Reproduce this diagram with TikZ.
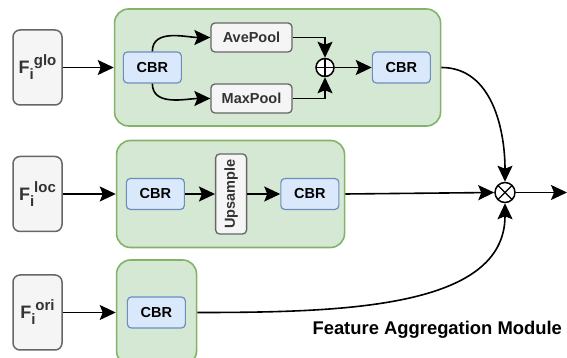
\documentclass[tikz,border=0pt]{standalone}
\usepackage{fontspec}
\setmainfont{Liberation Sans}
\usepackage{xcolor}
\usetikzlibrary{arrows.meta}
\usetikzlibrary{positioning}

\definecolor{greenfill}{HTML}{D5E8D4}
\definecolor{greenline}{HTML}{82B366}
\definecolor{bluefill}{HTML}{DAE8FC}
\definecolor{blueline}{HTML}{6C8EBF}
\definecolor{grayfill}{HTML}{F5F5F5}
\definecolor{grayline}{HTML}{666666}
\definecolor{darktext}{HTML}{333333}

\newcommand{\featin}[1]{{\fontsize{18}{20}\selectfont F}{\fontsize{15}{15}\selectfont\raisebox{-6pt}{i}\raisebox{8pt}{#1}}}

\tikzset{
    inbox/.style={draw=grayline, fill=grayfill, rounded corners=7pt, line width=1.5pt, minimum width=49pt, minimum height=75pt, inner sep=0pt, text=darktext, font=\bfseries},
    poolbox/.style={draw=grayline, fill=grayfill, rounded corners=4pt, line width=1.3pt, minimum width=81pt, minimum height=29pt, inner sep=0pt, text=darktext, font=\fontsize{14.5}{16}\selectfont\bfseries},
    cbrbox/.style={draw=blueline, fill=bluefill, rounded corners=4pt, line width=1.2pt, minimum width=58pt, minimum height=31pt, inner sep=0pt, font=\fontsize{14.5}{16}\selectfont\bfseries},
    group/.style={draw=greenline, fill=greenfill, rounded corners=14pt, line width=1.6pt, inner sep=0pt},
    opplus/.style={circle, draw, fill=white, line width=1.5pt, minimum size=18pt, inner sep=0pt,
        path picture={\draw[line width=1.3pt] (path picture bounding box.north) -- (path picture bounding box.south)
            (path picture bounding box.west) -- (path picture bounding box.east);}},
    optimes/.style={circle, draw, fill=white, line width=1.5pt, minimum size=20pt, inner sep=0pt,
        path picture={\draw[line width=1.3pt] (path picture bounding box.north west) -- (path picture bounding box.south east)
            (path picture bounding box.south west) -- (path picture bounding box.north east);}},
    conn/.style={line width=1.6pt, -{Stealth[length=16pt,width=15pt,inset=3pt]}}
}

\begin{document}
\begin{tikzpicture}[x=1pt, y=1pt]
    \useasboundingbox (0,0) rectangle (567,358);

    % inputs
    \node[inbox] (fglo) at (37.5,290.5) {\featin{glo}};
    \node[inbox, below=50pt of fglo] (floc) {\featin{loc}};
    \node[inbox, below=42pt of floc] (fori) {\featin{ori}};

    % module groups
    \node[group, minimum width=326pt, minimum height=117pt, right=51pt of fglo] (gglo) {};
    \node[group, minimum width=228pt, minimum height=107pt, right=53pt of floc] (gloc) {};
    \node[group, minimum width=80pt, minimum height=105pt, right=53pt of fori] (gori) {}; % runs past the bottom edge

    % global branch
    \node[cbrbox, right=9pt of gglo.west] (cbrglo) {CBR};
    \node[poolbox] (ave) at (251.5,320.5) {AvePool};
    \node[poolbox] (maxp) at (251.5,259.5) {MaxPool};
    \node[opplus] (plus) at (325,290.5) {};
    \node[cbrbox, right=37pt of plus] (cbrglo2) {CBR};

    % local branch
    \node[cbrbox, right=10pt of gloc.west] (cbrloc) {CBR};
    \node[draw=grayline, fill=grayfill, rounded corners=4pt, line width=1.3pt, minimum width=80pt, minimum height=31pt, inner sep=0pt,
        text=darktext, font=\fontsize{14.5}{16}\selectfont\bfseries, rotate=90, right=30pt of cbrloc, anchor=north] (ups) {Upsample};
    \node[cbrbox, right=33pt of ups.south] (cbrloc2) {CBR};

    % original branch
    \node[cbrbox, right=11pt of gori.west] (cbrori) {CBR};

    % aggregation
    \node[optimes] (times) at (505,165.5) {};
    \coordinate (out) at (567,165.5);
    \node[anchor=base west, font=\fontsize{18.4}{20}\selectfont\bfseries] (title) at (309,23) {Feature Aggregation Module};

    \draw[conn] (fglo.east) -- (gglo.west);
    \draw[conn] (floc.east) -- (gloc.west);
    \draw[conn] (fori.east) -- (gori.west);

    \draw[conn] (cbrglo.north) to[out=90, in=180] (ave.west);
    \draw[conn] (cbrglo.south) to[out=-90, in=180] (maxp.west);
    \draw[conn] (ave.east) -| (plus.north);
    \draw[conn] (maxp.east) -| (plus.south);
    \draw[conn] (plus.east) -- (cbrglo2.west);

    \draw[conn] (cbrloc.east) -- (ups.north);
    \draw[conn] (ups.south) -- (cbrloc2.west);

    \draw[conn] (gglo.east |- cbrglo2.east) to[out=0, in=90] (times.north);
    \draw[conn] (gloc.east |- cbrloc2.east) -- (times.west);
    \draw[conn] (gori.east |- cbrori.east) to[out=0, in=-90, out distance=146pt, in distance=105pt] (times.south);
    \draw[conn] (times.east) -- (out);
\end{tikzpicture}
\end{document}
